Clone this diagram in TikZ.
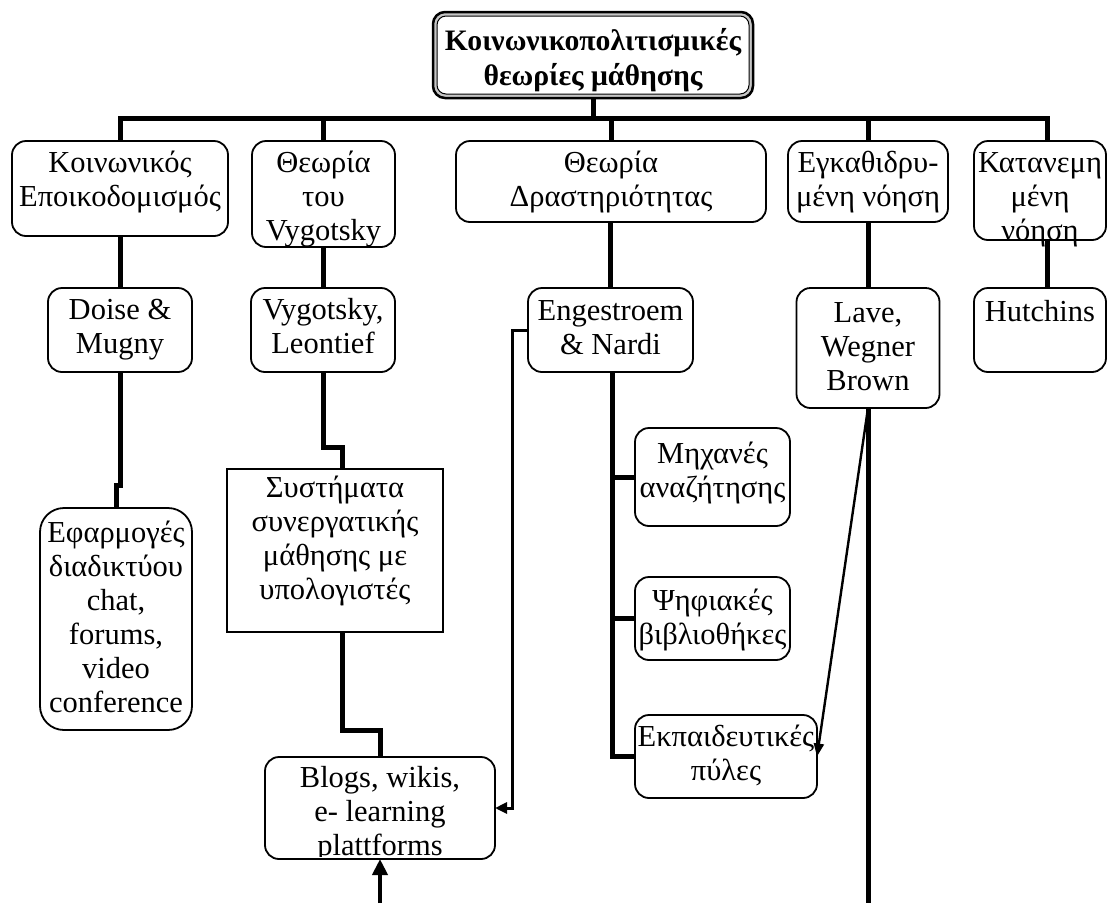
\documentclass[tikz,border=0pt]{standalone}
\usepackage{fontspec}
\setmainfont{Liberation Serif}
\usetikzlibrary{arrows.meta}

\newcommand\boxfont{\fontsize{30.5}{34}\selectfont}
\newcommand\headfont{\fontsize{29.7}{35}\selectfont\bfseries}

\pgfdeclarelayer{bars}
\pgfsetlayers{bars,main}

\tikzset{
  rbox/.style={draw, line width=1.8pt, rounded corners=14pt, fill=white,
               inner sep=0pt, outer sep=0pt},
  sbox/.style={draw, line width=1.5pt, fill=white, inner sep=0pt, outer sep=0pt},
  txt/.style={inner sep=0pt, outer sep=0pt, align=center, anchor=north, font=\boxfont},
  bar/.style={line width=5pt, line join=miter},
  link/.style={line width=3pt, -{Triangle[length=12pt,width=11pt]}},
  slant/.style={line width=2.4pt, -{Triangle[length=13pt,width=10pt]}},
  uplink/.style={line width=4.5pt, -{Triangle[length=16pt,width=15pt]}},
}

\begin{document}
\begin{tikzpicture}[x=1pt,y=-1pt]
  \useasboundingbox (0,0) rectangle (1108,903);

  % fixed points of the tree
  \coordinate (busL)    at (120,118);
  \coordinate (engcol)  at (512,0);
  \coordinate (blogsIn) at (380,903);
  \coordinate (laveEnd) at (868,903);

  % ---------- heading box with its double frame ----------
  \node[draw, line width=2.5pt, rounded corners=12pt, fill=gray!45,
        inner sep=0pt, outer sep=0pt, minimum width=320pt, minimum height=86pt]
        (title) at (593,55) {};
  \node[draw, line width=1pt, rounded corners=9pt, fill=white,
        inner sep=0pt, outer sep=0pt, minimum width=312pt, minimum height=78pt]
        (titleinner) at (title.center) {};

  % ---------- boxes ----------
  \node[rbox, minimum width=216pt, minimum height=95pt]  (b1) at (120,188.5) {};
  \node[rbox, minimum width=143pt, minimum height=106pt] (b2) at (323.5,194) {};
  \node[rbox, minimum width=310pt, minimum height=81pt]  (b3) at (611,181.5) {};
  \node[rbox, minimum width=160pt, minimum height=81pt]  (b4) at (868,181.5) {};
  \node[rbox, minimum width=132pt, minimum height=99pt]  (b5) at (1040,190.5) {};

  \node[rbox, minimum width=144pt, minimum height=84pt]  (doise) at (120,330) {};
  \node[rbox, minimum width=144pt, minimum height=84pt]  (vl)    at (323,330) {};
  \node[rbox, minimum width=165pt, minimum height=84pt]  (eng)   at (610.5,330) {};
  \node[rbox, minimum width=143pt, minimum height=120pt] (lave)  at (868,348) {};
  \node[rbox, minimum width=132pt, minimum height=84pt]  (hut)   at (1040,330) {};

  \node[rbox, rounded corners=24pt, minimum width=152pt, minimum height=222pt] (efar) at (116,619) {};
  \node[sbox, minimum width=216pt, minimum height=163pt] (sys)   at (335,550.5) {};
  \node[rbox, minimum width=155pt, minimum height=98pt]  (mix)   at (712.5,477) {};
  \node[rbox, minimum width=155pt, minimum height=83pt]  (psi)   at (712.5,618.5) {};
  \node[rbox, minimum width=182pt, minimum height=83pt]  (ekp)   at (726,756.5) {};
  \node[rbox, minimum width=230pt, minimum height=102pt] (blogs) at (380,808) {};

  % ---------- white page and thick tree bars, kept behind the boxes ----------
  \begin{pgfonlayer}{bars}
    \fill[white] (0,0) rectangle (1108,903);

    \draw[bar] (title.south) -- (title.south |- busL);
    \draw[bar] (b1.north) |- ([xshift=7pt]b5.north |- busL) -- ([xshift=7pt]b5.north);
    \draw[bar] (b2.north |- busL) -- (b2.north);
    \draw[bar] (b3.north |- busL) -- (b3.north);
    \draw[bar] (b4.north |- busL) -- (b4.north);

    \draw[bar] (b1.south) -- (doise.north);
    \draw[bar] (doise.south) -- ++(0,113) -| (efar.north);
    \draw[bar] (b2.south -| vl.north) -- (vl.north);
    \draw[bar] (vl.south) -- ++(0,75) -| ([xshift=7pt]sys.north);
    \draw[bar] ([xshift=7pt]sys.south) -- ++(0,98) -| (blogs.north);

    \draw[bar] (b3.south -| eng.north) -- (eng.north);
    \draw[bar] ([xshift=1.5pt]eng.south) |- (ekp.west);
    \draw[bar] ([xshift=1.5pt]eng.south |- mix.west) -- (mix.west);
    \draw[bar] ([xshift=1.5pt]eng.south |- psi.west) -- (psi.west);

    \draw[bar] (b4.south) -- (lave.north);
    \draw[bar] (lave.south) -- (laveEnd);

    \draw[bar] ([xshift=7pt]b5.south) -- ([xshift=7pt]hut.north);
  \end{pgfonlayer}

  % ---------- thin arrows ----------
  \draw[link] (eng.west) -- (eng.west -| engcol) -- (engcol |- blogs.east) -- (blogs.east);
  \draw[slant] (lave.south) -- (ekp.east);
  \draw[uplink] (blogsIn) -- (blogs.south);

  % ---------- texts ----------
  \node[txt, font=\headfont] (t-title) at ([yshift=-14pt]title.north)
    {\strut Κοινωνικοπολιτισμικές\\θεωρίες μάθησης};
  \node[txt] (t-b1) at ([yshift=-7.5pt]b1.north) {\strut Κοινωνικός\\Εποικοδομισμός};
  \node[txt] (t-b2) at ([yshift=-7.5pt]b2.north) {\strut Θεωρία\\του\\Vygotsky};
  \node[txt] (t-b3) at ([yshift=-7.5pt]b3.north) {\strut Θεωρία\\Δραστηριότητας};
  \node[txt] (t-b4) at ([yshift=-7.5pt]b4.north) {\strut Εγκαθιδρυ-\\μένη νόηση};
  \node[txt] (t-b5) at ([yshift=-7.5pt]b5.north) {\strut Κατανεμη\\μένη\\νόηση};

  \node[txt] (t-doise) at ([yshift=-8pt]doise.north) {\strut Doise \&\\Mugny};
  \node[txt] (t-vl)    at ([yshift=-8pt]vl.north)    {\strut Vygotsky,\\Leontief};
  \node[txt] (t-eng)   at ([yshift=-8.5pt]eng.north) {\strut Engestroem\\\& Nardi};
  \node[txt] (t-lave)  at ([yshift=-10.5pt]lave.north) {\strut Lave,\\Wegner\\Brown};
  \node[txt] (t-hut)   at ([yshift=-10pt]hut.north)  {\strut Hutchins};

  \node[txt] (t-efar) at ([yshift=-11pt]efar.north)
    {\strut Εφαρμογές\\διαδικτύου\\chat,\\forums,\\video\\conference};
  \node[txt] (t-sys) at ([yshift=-4.5pt]sys.north)
    {\strut Συστήματα\\συνεργατικής\\μάθησης με\\υπολογιστές};
  \node[txt] (t-mix) at ([yshift=-11.5pt]mix.north) {\strut Μηχανές\\αναζήτησης};
  \node[txt] (t-psi) at ([yshift=-9.5pt]psi.north)  {\strut Ψηφιακές\\βιβλιοθήκες};
  \node[txt] (t-ekp) at ([yshift=-8pt]ekp.north)    {\strut Εκπαιδευτικές\\πύλες};

  % the last line of this label runs into the frame and is cut off there
  \begin{scope}
    \clip ([yshift=3pt]blogs.south west) rectangle (blogs.north east);
    \node[txt] (t-blogs) at ([yshift=-7pt]blogs.north)
      {\strut Blogs, wikis,\\e- learning\\plattforms};
  \end{scope}
\end{tikzpicture}
\end{document}
